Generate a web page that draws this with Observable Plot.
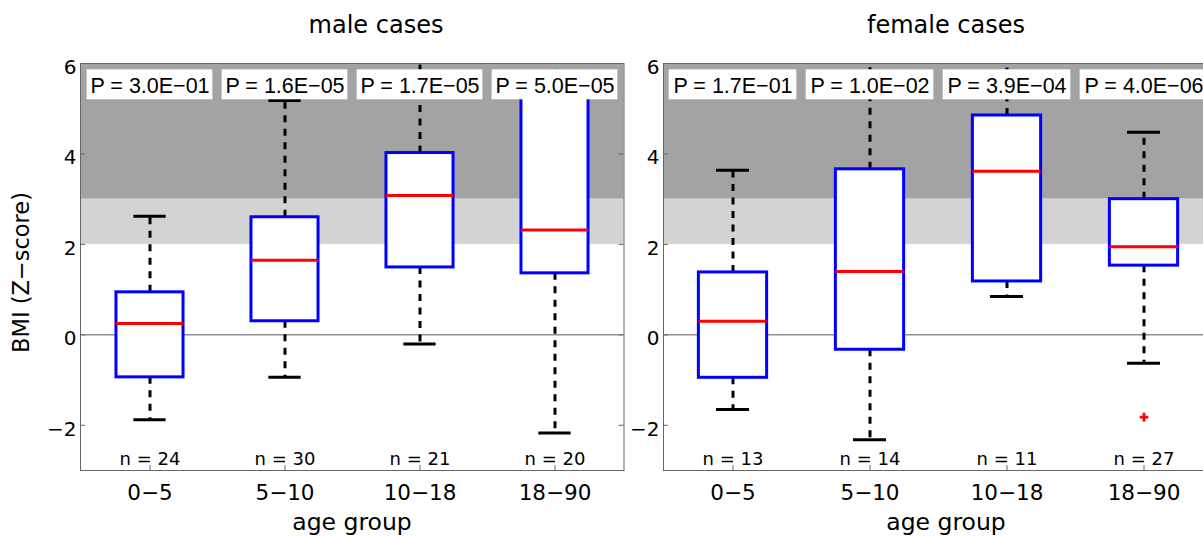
<!DOCTYPE html>
<html><head><meta charset="utf-8">
<script src="https://cdn.jsdelivr.net/npm/d3@7"></script>
<script src="https://cdn.jsdelivr.net/npm/@observablehq/plot@0.6"></script>
<style>
html,body{margin:0;padding:0;background:#fff;overflow:hidden;}
#wrap{position:relative;width:1203px;height:537px;overflow:hidden;}
#wrap svg{position:absolute;top:0;}
</style></head><body><div id="wrap"></div>
<script>
// ---- data ----
const groups = ["0−5", "5−10", "10−18", "18−90"];
const yTicks = [-2, 0, 2, 4, 6];
const darkBand = [3, 6];
const lightBand = [2, 3];

const maleLower  = [-1.88, -0.94, -0.20, -2.17];
const maleQ1     = [-0.94,  0.30,  1.49,  1.36];
const maleMedian = [ 0.25,  1.65,  3.08,  2.32];
const maleQ3     = [ 0.94,  2.60,  4.02,  5.70];
const maleUpper  = [ 2.62,  5.18,  7.00,  7.00];
const maleN      = [24, 30, 21, 20];
const maleP      = ["3.0E−01", "1.6E−05", "1.7E−05", "5.0E−05"];
const maleOutlierGroups = [];
const maleOutlierValues = [];

const femaleLower  = [-1.65, -2.32, 0.85, -0.63];
const femaleQ1     = [-0.95, -0.33, 1.18,  1.53];
const femaleMedian = [ 0.30,  1.40, 3.62,  1.95];
const femaleQ3     = [ 1.38,  3.66, 4.85,  3.00];
const femaleUpper  = [ 3.64,  7.00, 7.00,  4.48];
const femaleN      = [13, 14, 11, 27];
const femaleP      = ["1.7E−01", "1.0E−02", "3.9E−04", "4.0E−06"];
const femaleOutlierGroups = ["18−90"];
const femaleOutlierValues = [-1.82];

const SANS = "DejaVu Sans";
const HELV = "Liberation Sans";
const fmt = d => (d < 0 ? "−" + Math.abs(d) : String(d));

function panel(s, plotWidth, marginLeft) {
  const H = 537, mt = 63, mb = 67, ph = H - mt - mb;
  const ppu = ph / 9;
  const bw = plotWidth / groups.length;
  const yAt = px => 6 - (px - mt) / ppu; // pixel -> data for text placement
  const rows = groups.map((g, i) => ({
    g, lo: s.lo[i], q1: s.q1[i], med: s.med[i], q3: s.q3[i], hi: s.hi[i], n: s.n[i], p: s.p[i]
  }));
  const outs = s.og.map((g, i) => ({g, v: s.ov[i]}));
  const boxInset = bw * 0.25, capInset = bw * 0.378, labInset = bw * 0.034;
  return Plot.plot({
    width: marginLeft + plotWidth + 1,
    height: H,
    marginTop: mt, marginBottom: mb, marginLeft, marginRight: 1,
    x: {type: "band", domain: groups, padding: 0, axis: null},
    y: {domain: [-3, 6], axis: null},
    style: {fontFamily: SANS, background: "transparent", overflow: "visible"},
    marks: [
      Plot.rect([darkBand], {y1: d => d[0], y2: d => d[1], fill: "#a3a3a3"}),
      Plot.rect([lightBand], {y1: d => d[0], y2: d => d[1], fill: "#d3d3d3"}),
      Plot.ruleY([0], {stroke: "#555", strokeWidth: 1}),
      // whiskers
      Plot.ruleX(rows, {x: "g", y1: "q3", y2: "hi", stroke: "black", strokeWidth: 3, strokeDasharray: "7,6.5", clip: true}),
      Plot.ruleX(rows, {x: "g", y1: "q1", y2: "lo", stroke: "black", strokeWidth: 3, strokeDasharray: "7,6.5", clip: true}),
      Plot.tickY(rows.filter(d => d.hi <= 6), {x: "g", y: "hi", stroke: "black", strokeWidth: 3, insetLeft: capInset, insetRight: capInset}),
      Plot.tickY(rows, {x: "g", y: "lo", stroke: "black", strokeWidth: 3, insetLeft: capInset, insetRight: capInset}),
      // boxes
      Plot.barY(rows, {x: "g", y1: "q1", y2: "q3", fill: "white", stroke: "#0000ff", strokeWidth: 3,
                       insetLeft: boxInset, insetRight: boxInset, clip: true}),
      Plot.tickY(rows, {x: "g", y: "med", stroke: "#ff0000", strokeWidth: 3, insetLeft: boxInset, insetRight: boxInset}),
      Plot.dot(outs, {x: "g", y: "v", symbol: "cross", r: 3.6, fill: "#ff0000", stroke: "none"}),
      // P-value labels
      Plot.barY(rows, {x: "g", y1: yAt(99.3), y2: yAt(69.3), fill: "white", insetLeft: labInset, insetRight: labInset}),
      Plot.text(rows, {x: "g", y: yAt(92.7 - 0.32 * 21.5), text: d => "P = " + d.p, fontFamily: HELV, fontSize: 21.5, fill: "black"}),
      // sample size labels
      Plot.text(rows, {x: "g", y: yAt(464 - 0.32 * 18), text: d => "n = " + d.n, fontSize: 18, fill: "black"}),
      // frame and ticks
      Plot.frame({stroke: "#666", strokeWidth: 1}),
      Plot.tickY(yTicks, {y: d => d, stroke: "#666", insetRight: plotWidth - 5}),
      Plot.tickY(yTicks, {y: d => d, stroke: "#666", insetLeft: plotWidth - 5}),
      Plot.tickX(groups, {x: d => d, stroke: "#666", insetTop: ph - 5}),
      // tick labels
      Plot.text(yTicks, {y: d => d, text: fmt, frameAnchor: "left", textAnchor: "end", dx: -4, dy: 4, fontSize: 20, fill: "black"}),
      Plot.text(groups, {x: d => d, y: yAt(499 - 0.32 * 21.5), text: d => d, fontSize: 21.5, fill: "black"})
    ]
  });
}

const wrap = document.getElementById("wrap");
const left = panel({lo: maleLower, q1: maleQ1, med: maleMedian, q3: maleQ3, hi: maleUpper, n: maleN, p: maleP,
                    og: maleOutlierGroups, ov: maleOutlierValues}, 543.5, 80);
left.style.left = "0px";
wrap.appendChild(left);
const right = panel({lo: femaleLower, q1: femaleQ1, med: femaleMedian, q3: femaleQ3, hi: femaleUpper, n: femaleN, p: femaleP,
                     og: femaleOutlierGroups, ov: femaleOutlierValues}, 550, 39);
right.style.left = "624px";
wrap.appendChild(right);

// titles and axis labels
const ov = d3.select(wrap).append("svg").attr("width", 1203).attr("height", 537)
  .style("left", "0px").style("pointer-events", "none")
  .attr("font-family", SANS).attr("fill", "black");
ov.append("text").attr("x", 376).attr("y", 33).attr("text-anchor", "middle").attr("font-size", 24).text("male cases");
ov.append("text").attr("x", 946).attr("y", 33).attr("text-anchor", "middle").attr("font-size", 24).text("female cases");
ov.append("text").attr("x", 352).attr("y", 530).attr("text-anchor", "middle").attr("font-size", 23.5).text("age group");
ov.append("text").attr("x", 946).attr("y", 530).attr("text-anchor", "middle").attr("font-size", 23.5).text("age group");
ov.append("text").attr("transform", "translate(29,272.5) rotate(-90)").attr("text-anchor", "middle").attr("font-size", 22.5).text("BMI (Z−score)");
</script></body></html>
